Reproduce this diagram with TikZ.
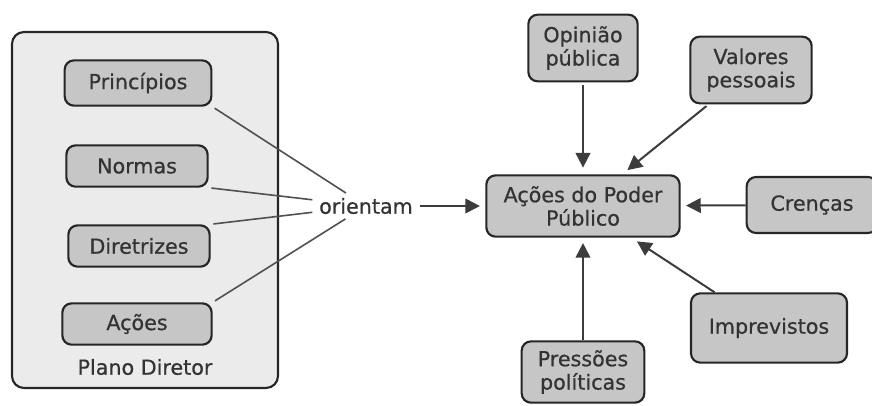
\documentclass[tikz,border=0pt]{standalone}
\usepackage{fontspec}
\setmainfont{DejaVu Sans}[FakeBold=0.6]
\usetikzlibrary{arrows.meta}
\definecolor{caixacor}{HTML}{C6C6C6}
\definecolor{fundocor}{HTML}{EBEBEB}
\definecolor{bordacor}{HTML}{262626}
\definecolor{linhacor}{HTML}{505050}
\definecolor{textocor}{HTML}{333333}
\tikzset{
    caixa/.style={draw=bordacor, fill=caixacor, line width=1.6pt, rounded corners=7pt,
        align=center, inner sep=0pt, text=textocor},
    ligacao/.style={draw=linhacor, line width=1.2pt},
    seta/.style={draw=linhacor!75!black, line width=1.5pt, -{Triangle[length=11pt,width=11pt]}}
}
\begin{document}
\begin{tikzpicture}[x=0.75pt,y=-0.75pt,font=\fontsize{15.5}{17.5}\selectfont]
    \useasboundingbox (0,0) rectangle (872,405);
    \clip (0,0) rectangle (872,405);
    %Plano Diretor
        \draw[draw=bordacor, fill=fundocor, line width=1.6pt, rounded corners=9pt] (12,32) rectangle (278,388);
        \node[caixa, minimum width=110pt, minimum height=34pt] (princ) at (138,83) {Princípios};
        \node[caixa, minimum width=106pt, minimum height=31pt] (norm) at (137,166) {Normas};
        \node[caixa, minimum width=106pt, minimum height=31pt] (diret) at (139,246) {Diretrizes};
        \node[caixa, minimum width=112pt, minimum height=31pt] (acoes) at (137,324) {Ações};
        \node[text=textocor] (plano) at (145,367) {Plano Diretor};

    %Ligacoes
        \node[inner sep=0pt, minimum width=80pt, minimum height=19pt, text=textocor] (ori) at (366,206) {orientam};
        \draw[ligacao, shorten <=2pt] (princ.south east) -- (ori);
        \draw[ligacao, shorten <=2pt] (norm.south east) -- (ori);
        \draw[ligacao, shorten <=2pt] (diret.north east) -- (ori);
        \draw[ligacao, shorten <=2pt] (acoes.north east) -- (ori);

    %Poder Publico
        \node[caixa, minimum width=145pt, minimum height=46pt] (poder) at (583,206) {Ações do Poder\\Público};
        \node[caixa, minimum width=82pt, minimum height=50pt] (opin) at (583,48) {Opinião\\pública};
        \node[caixa, minimum width=91pt, minimum height=50pt] (valor) at (751,70) {Valores\\pessoais};
        \node[caixa, minimum width=98pt, minimum height=42pt] (cren) at (812,205) {Crenças};
        \node[caixa, minimum width=117pt, minimum height=52pt] (impr) at (769,328) {Imprevistos};
        \node[caixa, minimum width=92pt, minimum height=46pt] (press) at (583,372) {Pressões\\políticas};
        %
        \draw[seta, shorten >=4pt] (ori) -- (poder);
        \draw[seta, shorten <=2pt, shorten >=5pt] (opin) -- (poder);
        \draw[seta, shorten <=2pt, shorten >=5pt] (valor) -- (poder);
        \draw[seta, shorten >=4pt] (cren) -- (poder);
        \draw[seta, shorten >=5pt] (impr) -- (poder);
        \draw[seta, shorten >=4pt] (press) -- (poder);
\end{tikzpicture}
\end{document}
